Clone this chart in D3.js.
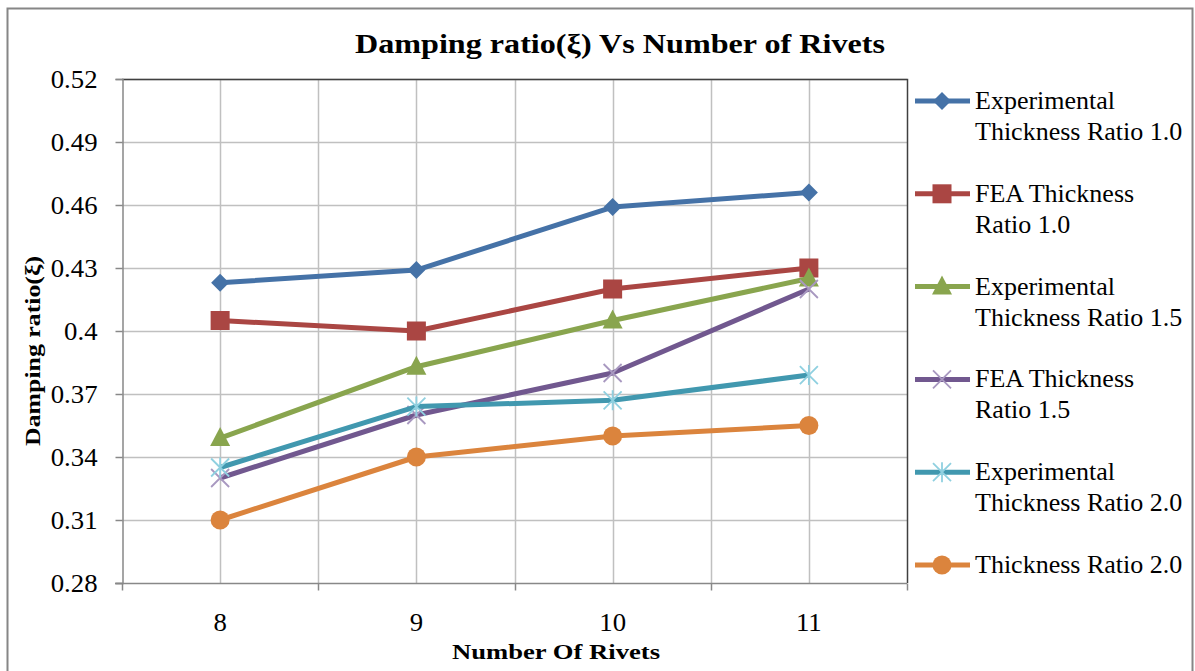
<!DOCTYPE html>
<html>
<head>
<meta charset="utf-8">
<script src="https://cdn.jsdelivr.net/npm/d3@7"></script>
<style>
  body { margin: 0; background: #fff; }
  svg text { font-family: "Liberation Serif", "DejaVu Serif", serif; }
</style>
</head>
<body>
<div id="chart-area"></div>
<script>
// categories and series
const rivets = [8, 9, 10, 11];
const yTicks = [0.28, 0.31, 0.34, 0.37, 0.4, 0.43, 0.46, 0.49, 0.52];

const expRatio10 = [0.423, 0.429, 0.459, 0.466];
const feaRatio10 = [0.405, 0.400, 0.420, 0.430];
const expRatio15 = [0.349, 0.383, 0.405, 0.425];
const feaRatio15 = [0.330, 0.360, 0.380, 0.420];
const expRatio20 = [0.335, 0.364, 0.367, 0.379];
const ratio20 = [0.310, 0.340, 0.350, 0.355];

const seriesNames = [
    ["Experimental", "Thickness Ratio 1.0"],
    ["FEA Thickness", "Ratio 1.0"],
    ["Experimental", "Thickness Ratio 1.5"],
    ["FEA Thickness", "Ratio 1.5"],
    ["Experimental", "Thickness Ratio 2.0"],
    ["Thickness Ratio 2.0"]
];

const series = [
    { name: seriesNames[0], values: expRatio10, color: "#4572A7", marker: "diamond" },
    { name: seriesNames[1], values: feaRatio10, color: "#AA4643", marker: "square" },
    { name: seriesNames[2], values: expRatio15, color: "#89A54E", marker: "triangle" },
    { name: seriesNames[3], values: feaRatio15, color: "#71588F", marker: "x", markColor: "#a898c0" },
    { name: seriesNames[4], values: expRatio20, color: "#4198AF", marker: "star", markColor: "#8fd0e0" },
    { name: seriesNames[5], values: ratio20, color: "#DB843D", marker: "circle" }
];

const width = 1195, height = 671;
const plot = { left: 122, right: 907, top: 79, bottom: 583 };

const svg = d3.select("#chart-area")
    .append("svg")
    .attr("width", width)
    .attr("height", height);

// the picture's text is a little wider than the font, stretch it
function stretch(sel, f) {
    sel.each(function () {
        const w = this.getComputedTextLength();
        d3.select(this).attr("textLength", w * f).attr("lengthAdjust", "spacingAndGlyphs");
    });
}

// outer chart border
svg.append("rect")
    .attr("x", 7.5).attr("y", 8.5)
    .attr("width", 1185).attr("height", 680)
    .attr("fill", "none")
    .attr("stroke", "#868686")
    .attr("stroke-width", 2);

const x = d3.scaleBand()
    .domain(rivets)
    .range([plot.left, plot.right]);

const y = d3.scaleLinear()
    .domain([0.28, 0.52])
    .range([plot.bottom, plot.top]);

// gridlines: horizontal at each tick, vertical at category centres and edges
const grid = svg.append("g");
grid.selectAll(".hg")
    .data(yTicks.slice(1))
    .enter().append("line")
    .attr("x1", plot.left).attr("x2", plot.right)
    .attr("y1", d => Math.round(y(d)) + 0.5)
    .attr("y2", d => Math.round(y(d)) + 0.5)
    .attr("stroke", "#c0c0c0")
    .attr("stroke-width", 1.5);

const vLines = [];
rivets.forEach(function (r, i) {
    vLines.push(x(r) + x.bandwidth() / 2);
    if (i > 0) vLines.push(x(r));
});
grid.selectAll(".vg")
    .data(vLines)
    .enter().append("line")
    .attr("x1", d => Math.round(d) + 0.5).attr("x2", d => Math.round(d) + 0.5)
    .attr("y1", plot.top).attr("y2", plot.bottom)
    .attr("stroke", "#c0c0c0")
    .attr("stroke-width", 1.5);

// plot area border top and right
svg.append("path")
    .attr("d", `M${plot.left},${plot.top + 0.5}H${plot.right + 0.5}V${plot.bottom}`)
    .attr("fill", "none")
    .attr("stroke", "#404040")
    .attr("stroke-width", 1.5);

// y axis
const yAxis = d3.axisLeft(y)
    .tickValues(yTicks)
    .tickFormat(d => d === 0.4 ? "0.4" : d3.format(".2f")(d))
    .tickSize(7)
    .tickPadding(18);
const gy = svg.append("g")
    .attr("transform", `translate(${plot.left + 0.5},0)`)
    .call(yAxis)
    .attr("font-family", null);
gy.select(".domain").attr("stroke", "#888").attr("stroke-width", 1.5);
gy.selectAll(".tick line").attr("stroke", "#888").attr("stroke-width", 1.5);
gy.selectAll(".tick text")
    .attr("font-size", 25)
    .attr("fill", "#000");
stretch(gy.selectAll(".tick text"), 1.07);

// x axis: labels at centres, ticks at category boundaries
const gx = svg.append("g")
    .attr("transform", `translate(0,${plot.bottom + 0.5})`);
gx.append("line")
    .attr("x1", plot.left - 7).attr("x2", plot.right)
    .attr("stroke", "#888").attr("stroke-width", 1.5);
const bounds = rivets.map(r => x(r)).concat([plot.right]);
gx.selectAll(".xt")
    .data(bounds)
    .enter().append("line")
    .attr("x1", d => Math.round(d) + 0.5).attr("x2", d => Math.round(d) + 0.5)
    .attr("y1", 0).attr("y2", 7)
    .attr("stroke", "#888").attr("stroke-width", 1.5);
const xLabels = gx.selectAll(".xl")
    .data(rivets)
    .enter().append("text")
    .attr("x", d => x(d) + x.bandwidth() / 2)
    .attr("y", 47)
    .attr("text-anchor", "middle")
    .attr("font-size", 25)
    .text(d => d);
stretch(xLabels, 1.07);

// title and axis titles
svg.append("text")
    .attr("x", 620).attr("y", 53)
    .attr("text-anchor", "middle")
    .attr("font-size", 28)
    .attr("font-weight", "bold")
    .attr("textLength", 530)
    .attr("lengthAdjust", "spacingAndGlyphs")
    .text("Damping ratio(ξ) Vs Number of Rivets");

svg.append("text")
    .attr("x", 556).attr("y", 659)
    .attr("text-anchor", "middle")
    .attr("font-size", 21)
    .attr("font-weight", "bold")
    .attr("textLength", 208)
    .attr("lengthAdjust", "spacingAndGlyphs")
    .text("Number Of Rivets");

svg.append("text")
    .attr("transform", "translate(40,351) rotate(-90)")
    .attr("text-anchor", "middle")
    .attr("font-size", 21)
    .attr("font-weight", "bold")
    .attr("textLength", 190)
    .attr("lengthAdjust", "spacingAndGlyphs")
    .text("Damping ratio(ξ)");

// markers
function drawMarker(g, type, color, mcolor, cx, cy) {
    const s = mcolor || color;
    if (type === "diamond") {
        g.append("path").attr("d", `M${cx},${cy - 9}L${cx + 9},${cy}L${cx},${cy + 9}L${cx - 9},${cy}Z`).attr("fill", color);
    } else if (type === "square") {
        g.append("rect").attr("x", cx - 9.5).attr("y", cy - 9.5).attr("width", 19).attr("height", 19).attr("fill", color);
    } else if (type === "triangle") {
        g.append("path").attr("d", `M${cx},${cy - 11}L${cx + 10},${cy + 8}L${cx - 10},${cy + 8}Z`).attr("fill", color);
    } else if (type === "circle") {
        g.append("circle").attr("cx", cx).attr("cy", cy).attr("r", 9.5).attr("fill", color);
    } else if (type === "x") {
        g.append("path").attr("d", `M${cx - 9},${cy - 9}L${cx + 9},${cy + 9}M${cx - 9},${cy + 9}L${cx + 9},${cy - 9}`)
            .attr("stroke", s).attr("stroke-width", 1.8);
    } else if (type === "star") {
        g.append("path").attr("d", `M${cx - 9},${cy - 9}L${cx + 9},${cy + 9}M${cx - 9},${cy + 9}L${cx + 9},${cy - 9}M${cx},${cy - 10}V${cy + 10}`)
            .attr("stroke", s).attr("stroke-width", 1.8);
    }
}

const line = d3.line()
    .x((d, i) => x(rivets[i]) + x.bandwidth() / 2)
    .y(d => y(d));

series.forEach(function (s) {
    const g = svg.append("g");
    g.append("path")
        .attr("d", line(s.values))
        .attr("fill", "none")
        .attr("stroke", s.color)
        .attr("stroke-width", 5)
        .attr("stroke-linejoin", "round");
    s.values.forEach(function (v, i) {
        drawMarker(g, s.marker, s.color, s.markColor, x(rivets[i]) + x.bandwidth() / 2, y(v));
    });
});

// legend
const legend = svg.append("g");
series.forEach(function (s, i) {
    const ly = 101 + i * 92.8;
    const g = legend.append("g");
    g.append("line")
        .attr("x1", 915).attr("x2", 970)
        .attr("y1", ly).attr("y2", ly)
        .attr("stroke", s.color).attr("stroke-width", 5);
    drawMarker(g, s.marker, s.color, s.markColor, 942, ly);
    s.name.forEach(function (t, j) {
        g.append("text")
            .attr("x", 975)
            .attr("y", ly + 8 + j * 31)
            .attr("font-size", 26)
            .text(t);
    });
});
</script>
</body>
</html>
